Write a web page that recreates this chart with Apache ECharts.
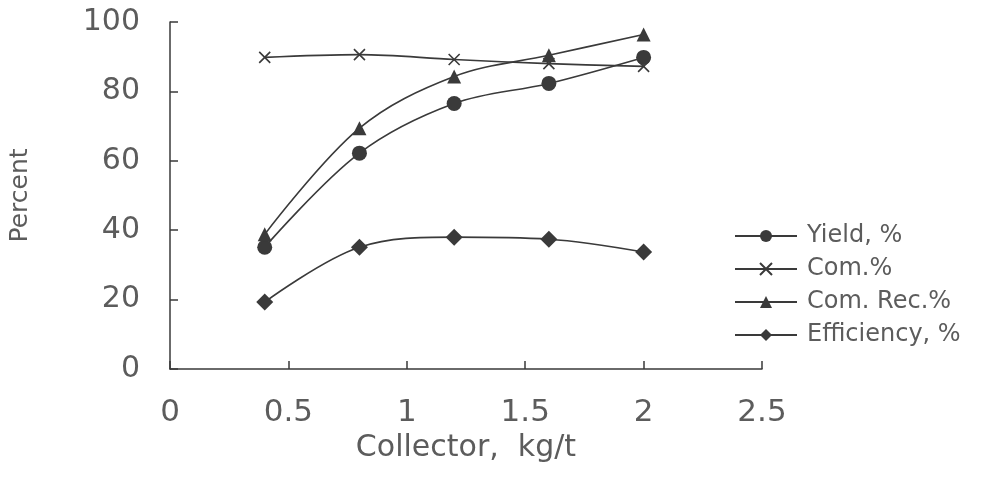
<!DOCTYPE html>
<html><head><meta charset="utf-8">
<script src="https://cdn.jsdelivr.net/npm/echarts@6/dist/echarts.min.js"></script>
<style>html,body{margin:0;padding:0;background:#fff}#c{width:993px;height:491px}</style>
</head><body><div id="c"></div>
<script>
const collector = [0.4, 0.8, 1.2, 1.6, 2.0];
const yieldPct = [35.1, 62.2, 76.5, 82.3, 89.8];
const comPct = [89.8, 90.6, 89.2, 88.0, 87.2];
const comRecPct = [38.8, 69.4, 84.3, 90.4, 96.4];
const efficiencyPct = [19.3, 35.1, 38.0, 37.4, 33.7];
const seriesNames = ['Yield, %', 'Com.%', 'Com. Rec.%', 'Efficiency, %'];

const ink = '#3a3a3a';
const txt = '#5c5c5c';
const font = 'DejaVu Sans, sans-serif';
function pts(arr){ return collector.map((x,i)=>[x, arr[i]]); }
function mk(name, data, symbol, size, extra){
  return Object.assign({
    name, type:'line', data: pts(data), smooth:0.35,
    symbol, symbolSize:size, showSymbol:true,
    lineStyle:{color:ink, width:1.6},
    itemStyle:{color:ink},
    emphasis:{disabled:true}
  }, extra||{});
}
const chart = echarts.init(document.getElementById('c'), null, {renderer:'canvas'});
chart.setOption({
  animation:false,
  backgroundColor:'#fff',
  grid:{left:167, right:231, top:22, bottom:122},
  xAxis:{type:'value', min:0, max:2.5, interval:0.5,
    name:'Collector,  kg/t', nameLocation:'middle', nameGap:64,
    nameTextStyle:{fontFamily:font, fontSize:30, color:txt},
    axisLine:{lineStyle:{color:ink, width:1.5}},
    axisTick:{inside:true, length:8, lineStyle:{color:ink, width:1.5}},
    axisLabel:{margin:28, fontFamily:font, fontSize:31, color:txt},
    splitLine:{show:false}},
  yAxis:{type:'value', min:0, max:100, interval:20,
    name:'Percent', nameLocation:'middle', nameGap:137,
    nameTextStyle:{fontFamily:font, fontSize:25, color:txt},
    axisLine:{show:true, lineStyle:{color:ink, width:1.5}},
    axisTick:{show:true, inside:true, length:8, lineStyle:{color:ink, width:1.5}},
    axisLabel:{margin:30, fontFamily:font, fontSize:30, color:txt},
    splitLine:{show:false}},
  legend:{orient:'vertical', left:729, top:219, itemWidth:62, itemHeight:15, itemGap:9,
    textStyle:{fontFamily:font, fontSize:24, color:txt, padding:[0,0,0,5]},
    data:seriesNames},
  series:[
    mk(seriesNames[0], yieldPct, 'circle', 15),
    mk(seriesNames[1], comPct, 'path://M0,0L10,10M10,0L0,10', 11,
       {itemStyle:{color:'none', borderColor:ink, borderWidth:1.6}}),
    mk(seriesNames[2], comRecPct, 'triangle', 14),
    mk(seriesNames[3], efficiencyPct, 'diamond', 17)
  ]
});
</script></body></html>
